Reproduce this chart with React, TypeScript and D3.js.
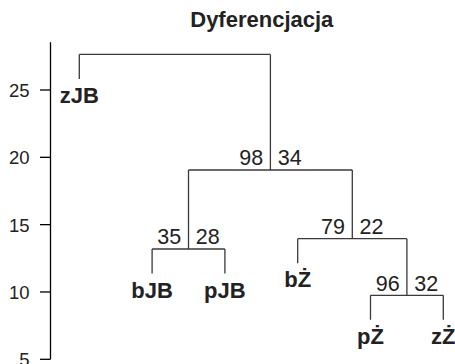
import React from "react";
import * as d3 from "d3";

const title = "Dyferencjacja";
const leafLabels = ["zJB", "bJB", "pJB", "bŻ", "pŻ", "zŻ"];
// merges: children refer to leaves (negative, 1-based like R) or earlier merges (positive, 1-based)
const mergeLeft = [-5, -2, -4, 2, -1];
const mergeRight = [-6, -3, 1, 3, 4];
const mergeHeights = [9.75, 13.19, 13.96, 19.06, 27.64];
const bootLeft = ["96", "35", "79", "98", ""];
const bootRight = ["32", "28", "22", "34", ""];
const leafOrder = [1, 2, 3, 4, 5, 6];
const hang = 1.82;
const yTicks = [5, 10, 15, 20, 25];
const yAxisTop = 28.54;

const W = 455;
const H = 364;
const FONT = "'Liberation Sans', Arial, Helvetica, sans-serif";

export default function App() {
  const x = d3.scaleLinear().domain([1, 6]).range([79.3, 443.3]);
  const y = d3.scaleLinear().domain([5, 25]).range([359.3, 90]);

  const leafPos: Record<number, number> = {};
  leafOrder.forEach((leaf, i) => (leafPos[leaf] = i + 1));

  const nodeX: number[] = [];
  const nodeH: number[] = [];
  const childInfo = (c: number) => {
    if (c < 0) return { x: x(leafPos[-c]), h: null as number | null, leaf: -c };
    return { x: nodeX[c - 1], h: nodeH[c - 1], leaf: 0 };
  };

  const segs: string[] = [];
  const leafMarks: { x: number; yEnd: number; label: string }[] = [];
  const bootMarks: { x: number; y: number; l: string; r: string }[] = [];

  mergeHeights.forEach((h, i) => {
    const a = childInfo(mergeLeft[i]);
    const b = childInfo(mergeRight[i]);
    const yh = y(h);
    [a, b].forEach((c) => {
      const ch = c.h === null ? h - hang : c.h;
      segs.push(`M${c.x},${y(ch)}V${yh}`);
      if (c.h === null) leafMarks.push({ x: c.x, yEnd: y(ch), label: leafLabels[c.leaf - 1] });
    });
    segs.push(`M${a.x},${yh}H${b.x}`);
    const cx = (a.x + b.x) / 2;
    nodeX.push(cx);
    nodeH.push(h);
    bootMarks.push({ x: cx, y: yh, l: bootLeft[i], r: bootRight[i] });
  });

  return (
    <svg
      width={W}
      height={H}
      style={{ position: "absolute", left: 0, top: 0, display: "block", background: "#fff" }}
      fontFamily={FONT}
    >
      <text x={261.8} y={26.7} textAnchor="middle" fontWeight="bold" fontSize={22} fill="#222">
        {title}
      </text>
      {/* y axis */}
      <path d={`M50.5,${y(yAxisTop)}V${y(5)}`} stroke="#000" strokeWidth={1.3} fill="none" />
      {yTicks.map((t) => (
        <g key={t}>
          <line x1={40} x2={50.5} y1={y(t)} y2={y(t)} stroke="#000" strokeWidth={1.3} />
          <text x={29.5} y={y(t) + 7} textAnchor="end" fontSize={18.5} fill="#222">
            {t}
          </text>
        </g>
      ))}
      {/* dendrogram */}
      <path d={segs.join("")} stroke="#3a3a3a" strokeWidth={1.3} fill="none" />
      {leafMarks.map((m) => (
        <text key={m.label} x={m.x} y={m.yEnd + 24} textAnchor="middle" fontWeight="bold" fontSize={22} fill="#222">
          {m.label}
        </text>
      ))}
      {bootMarks.map((b, i) => (
        <g key={i}>
          <text x={b.x - 7.3} y={b.y - 4.6} textAnchor="end" fontSize={21.5} fill="#222">
            {b.l}
          </text>
          <text x={b.x + 7.3} y={b.y - 4.6} textAnchor="start" fontSize={21.5} fill="#222">
            {b.r}
          </text>
        </g>
      ))}
    </svg>
  );
}
